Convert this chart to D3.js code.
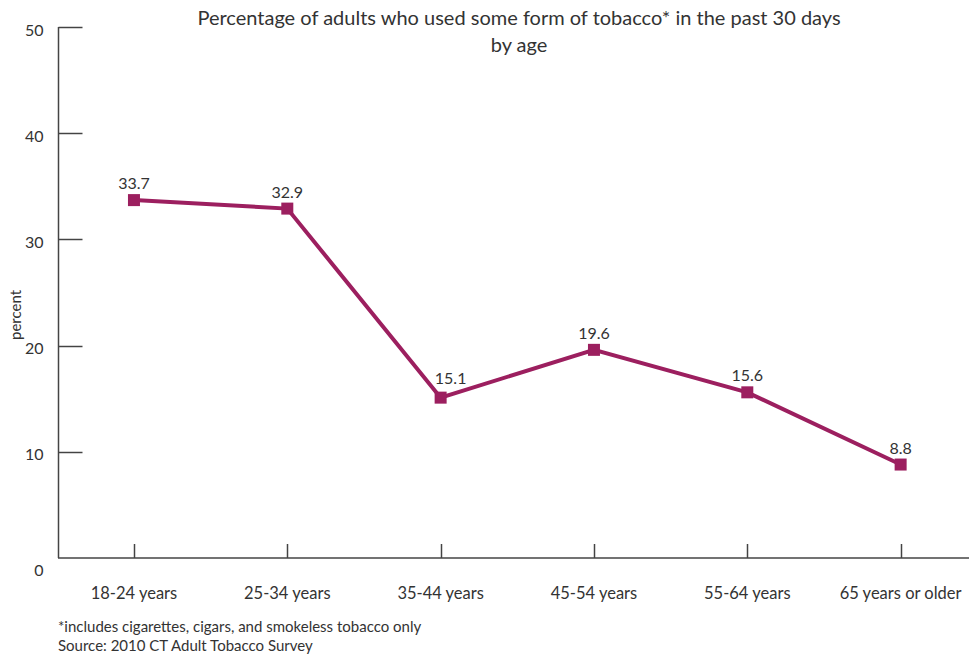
<!DOCTYPE html>
<html>
<head>
<meta charset="utf-8">
<script src="https://cdn.jsdelivr.net/npm/d3@7"></script>
<style>
  html, body { margin: 0; padding: 0; background: #fff; }
  svg { display: block; }
  text { font-family: Lato, "Open Sans", sans-serif; fill: #333; }
</style>
</head>
<body>
<svg id="chart" width="969" height="658"></svg>
<script>
const categories = ["18-24 years", "25-34 years", "35-44 years", "45-54 years", "55-64 years", "65 years or older"];
const values = [33.7, 32.9, 15.1, 19.6, 15.6, 8.8];
const yTicks = [0, 10, 20, 30, 40, 50];
const titleLines = ["Percentage of adults who used some form of tobacco* in the past 30 days", "by age"];
const footnotes = ["*includes cigarettes, cigars, and smokeless tobacco only", "Source: 2010 CT Adult Tobacco Survey"];
const yLabel = "percent";

const svg = d3.select("#chart");
const W = 969, H = 658;
const color = "#9c1f5f";
const axisColor = "#444";

const x = d3.scaleBand().domain(categories).range([57.3, 977.3]);
const y = d3.scaleLinear().domain([0, 50]).range([558, 27]);
const cx = d => x(d) + x.bandwidth() / 2;

// Title
svg.append("g").selectAll("text").data(titleLines).join("text")
  .attr("x", 519).attr("y", (d, i) => 25 + i * 27)
  .attr("text-anchor", "middle").style("font-size", "20px").text(d => d);

// Y axis
const yAxis = svg.append("g").attr("transform", "translate(58.5,0)");
yAxis.append("line").attr("x1", 0).attr("x2", 0).attr("y1", y(50)).attr("y2", y(0))
  .attr("stroke", axisColor).attr("stroke-width", 1.5);
yAxis.selectAll("line.tick").data(yTicks.filter(t => t > 0)).join("line").attr("class", "tick")
  .attr("x1", 0).attr("x2", 24).attr("y1", d => Math.round(y(d)) + 0.5).attr("y2", d => Math.round(y(d)) + 0.5)
  .attr("stroke", axisColor).attr("stroke-width", 1.5);
yAxis.selectAll("text").data(yTicks).join("text")
  .attr("x", -15).attr("y", d => y(d) + (d === 0 ? 12 : 3))
  .attr("dy", "0.35em").attr("text-anchor", "end").style("font-size", "16px").text(d => d);

// Y label
svg.append("text").attr("transform", `translate(21,${315}) rotate(-90)`)
  .attr("text-anchor", "middle").style("font-size", "15px").text(yLabel);

// X axis
const xAxis = svg.append("g");
xAxis.append("line").attr("x1", 58).attr("x2", W).attr("y1", 558).attr("y2", 558)
  .attr("stroke", axisColor).attr("stroke-width", 1.5);
xAxis.selectAll("line.tick").data(categories).join("line").attr("class", "tick")
  .attr("x1", d => Math.round(cx(d)) + 0.5).attr("x2", d => Math.round(cx(d)) + 0.5)
  .attr("y1", 558).attr("y2", 544)
  .attr("stroke", axisColor).attr("stroke-width", 1.5);
xAxis.selectAll("text").data(categories).join("text")
  .attr("x", d => cx(d)).attr("y", 599).attr("text-anchor", "middle")
  .style("font-size", "16.5px").text(d => d);

// Line
const data = categories.map((c, i) => ({ c, v: values[i] }));
svg.append("path").datum(data)
  .attr("d", d3.line().x(d => cx(d.c)).y(d => y(d.v)))
  .attr("fill", "none").attr("stroke", color).attr("stroke-width", 4);

// Markers
svg.append("g").selectAll("rect").data(data).join("rect")
  .attr("x", d => cx(d.c) - 6).attr("y", d => y(d.v) - 6)
  .attr("width", 12).attr("height", 12).attr("fill", color);

// Value labels
svg.append("g").selectAll("text").data(data).join("text")
  .attr("x", (d, i) => cx(d.c) + (i === 2 ? 10 : 0))
  .attr("y", (d, i) => y(d.v) - (i === 2 ? 14 : 11))
  .attr("text-anchor", "middle").style("font-size", "16px").text(d => d.v.toFixed(1));

// Footnotes
svg.append("g").selectAll("text").data(footnotes).join("text")
  .attr("x", 58).attr("y", (d, i) => 632 + i * 19)
  .style("font-size", "15px").text(d => d);
</script>
</body>
</html>
